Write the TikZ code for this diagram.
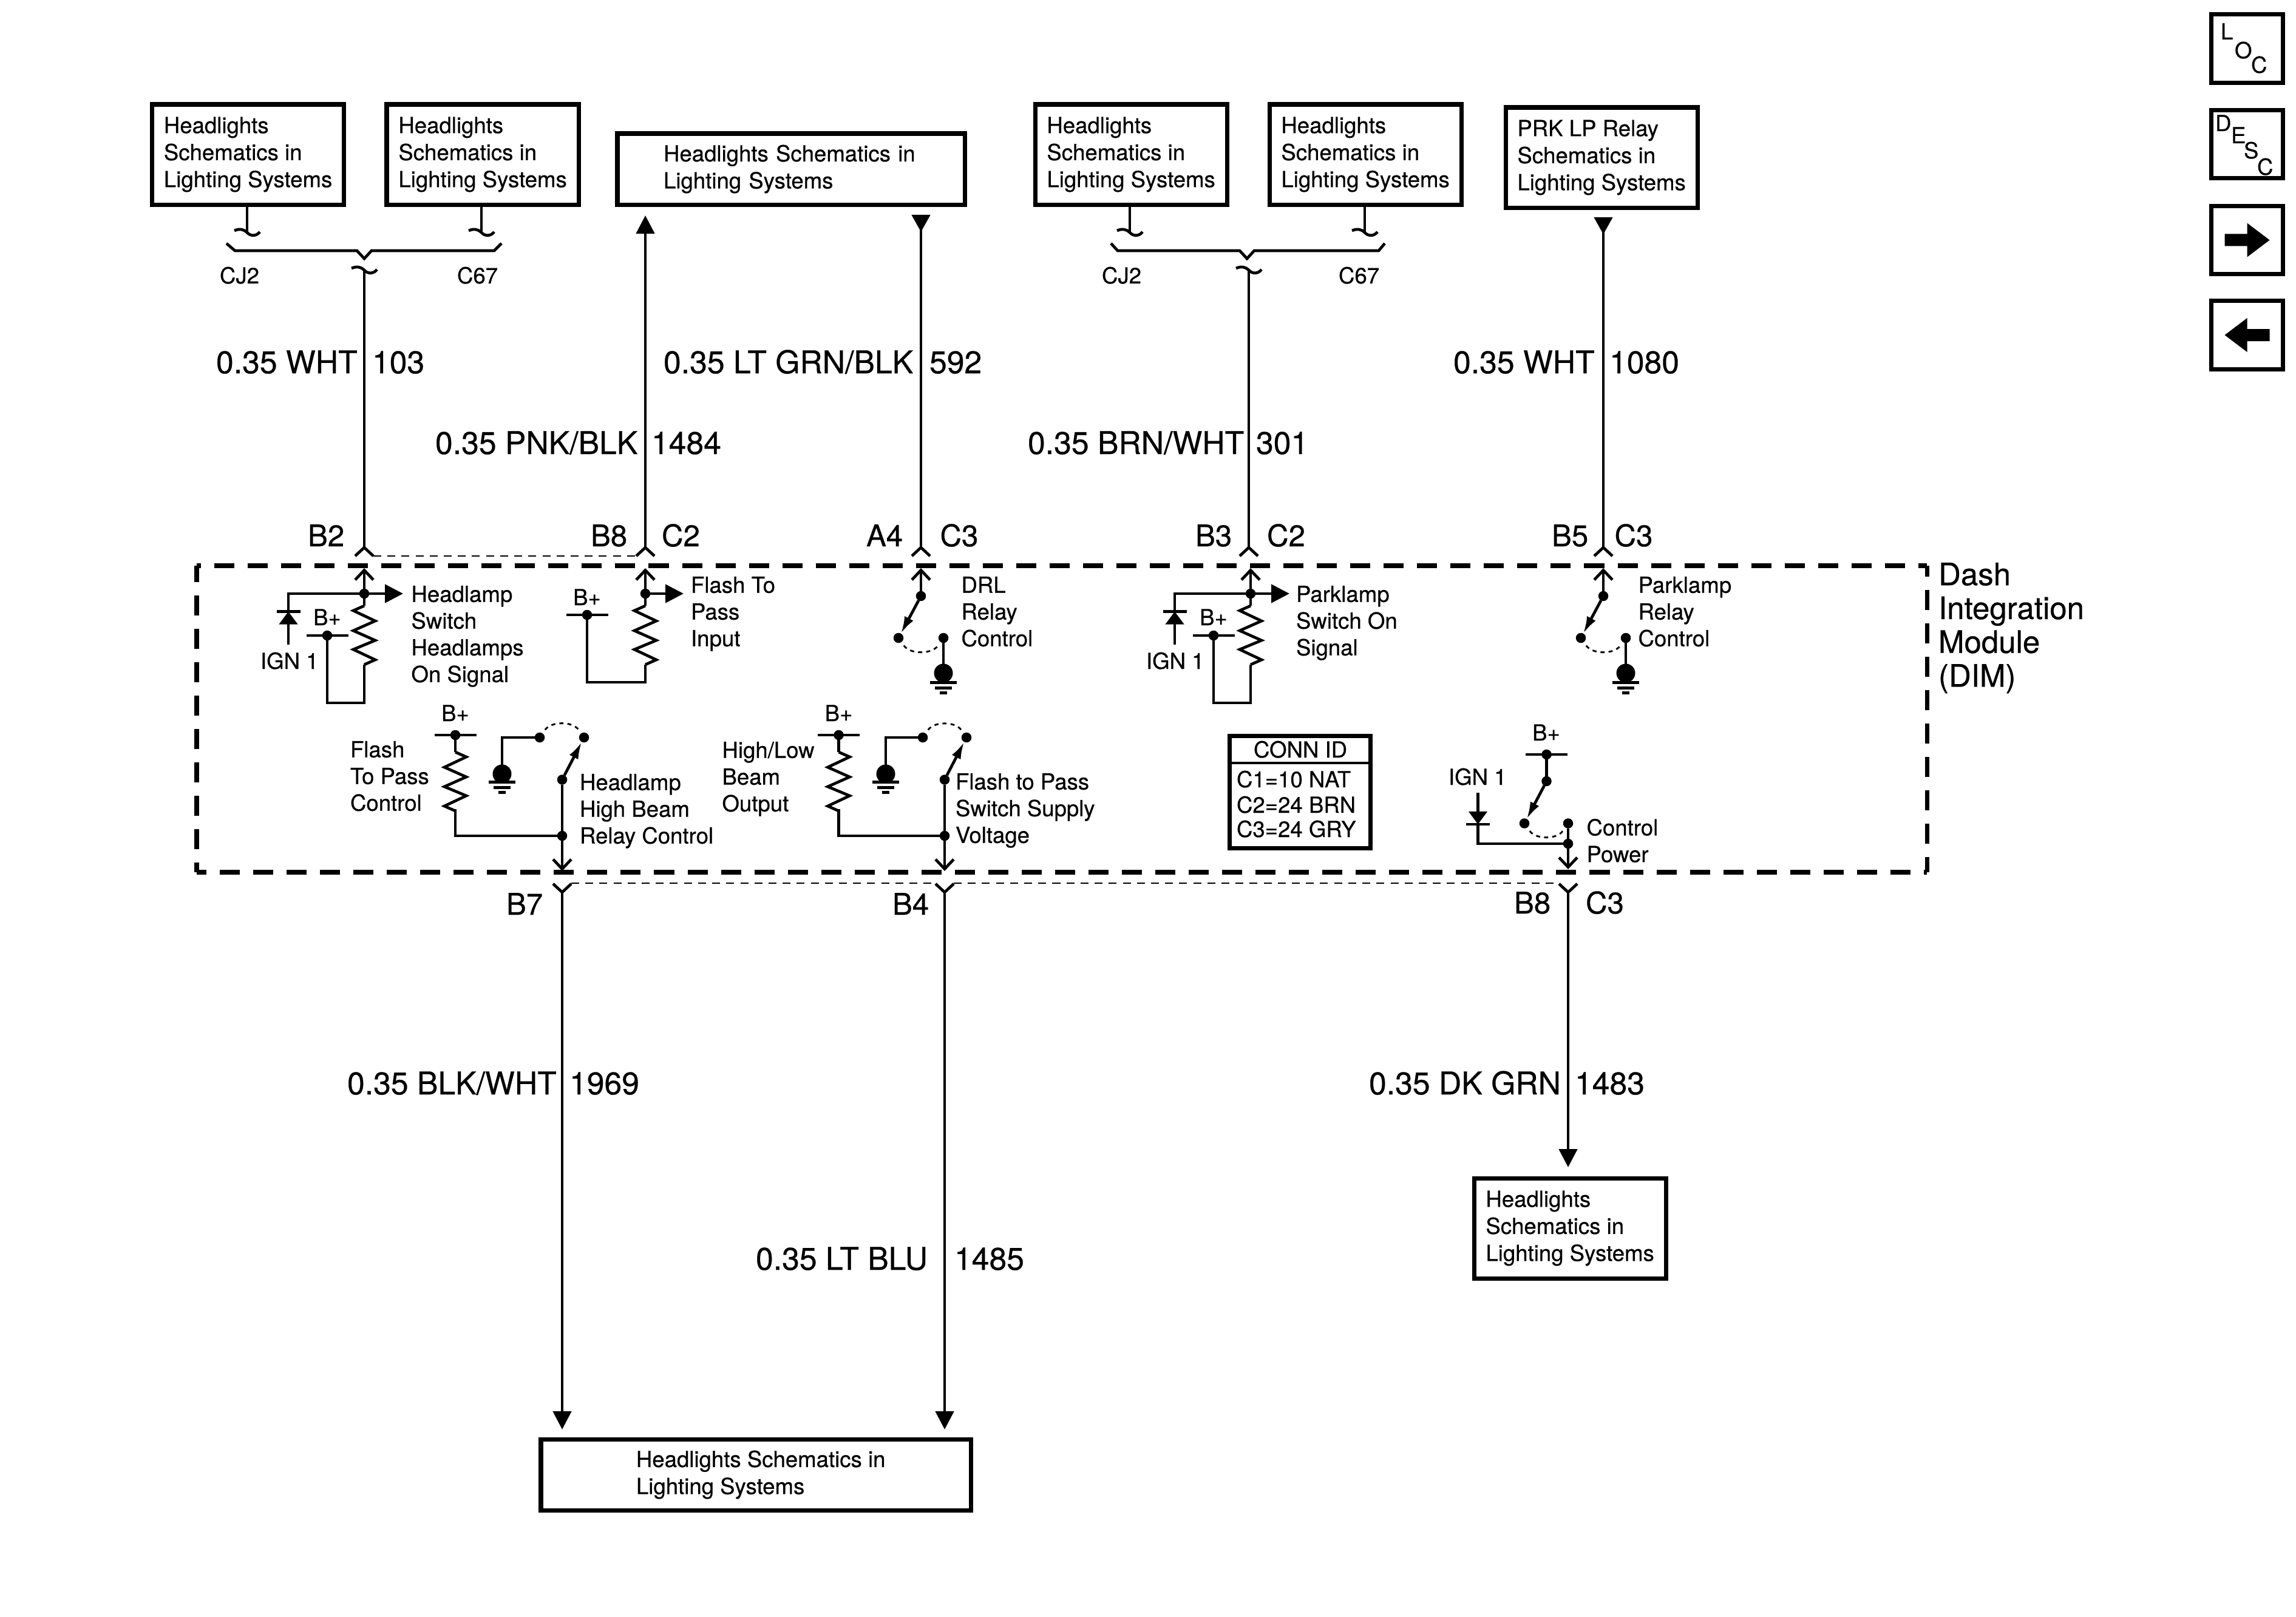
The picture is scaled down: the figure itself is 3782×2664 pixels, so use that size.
\documentclass[tikz,border=0pt]{standalone}
\usepackage{fontspec}
\setmainfont[FakeBold=0.5]{TeX Gyre Heros}
\usetikzlibrary{arrows.meta}

\tikzset{
    wire/.style={line width=1.33pt},
    thindash/.style={line width=0.8pt, dash pattern=on 3.7pt off 2.9pt},
    dimline/.style={line width=2pt, dash pattern=on 9.39pt off 6.26pt},
    swingarc/.style={line width=0.8pt, dash pattern=on 1.9pt off 1.9pt, shorten <=2pt, shorten >=2pt},
    opentip/.style={-{Straight Barb[length=4.5pt,width=8.5pt]}},
    filltip/.style={-{Triangle[length=8.5pt,width=8.5pt]}},
    droptip/.style={{Triangle[reversed,length=8pt,width=8.5pt]}-},
    diodetip/.style={-{Triangle[length=6pt,width=8.5pt]}},
    swarm/.style={-{Latex[length=8pt,width=4.6pt]}},
    txt/.style={font=\fontsize{10.4}{12.52}\selectfont, inner sep=0pt, outer sep=0pt},
    lbl/.style={txt, align=left, anchor=north west, xshift=-0.02cm},
    basel/.style={txt, anchor=base west, xshift=-0.02cm},
    pluslbl/.style={txt, anchor=base},
    pinlbl/.style={basel, font=\fontsize{14}{16}\selectfont},
    wirelbl/.style={basel, font=\fontsize{14.7}{17}\selectfont},
    infobox/.style={txt, font=\fontsize{10.4}{12.66}\selectfont, draw, line width=2pt, align=left, anchor=north west},
    narrowbox/.style={infobox, minimum width=3.16cm, minimum height=1.65cm},
    navbox/.style={draw, line width=2pt, inner sep=0pt, outer sep=0pt, minimum width=1.18cm, minimum height=1.12cm},
    junct/.style={circle, fill, inner sep=0pt, outer sep=0pt, minimum size=0.165cm},
    gblob/.style={circle, fill, inner sep=0pt, outer sep=0pt, minimum size=0.31cm},
    pics/resist/.style={code={
        \draw[wire] (0,0) -- (-18,8) -- (18,25) -- (-18,41) -- (18,57) -- (-18,72) -- (18,89) -- (0,97);
    }},
    pics/crossbar/.style={code={\draw[wire] (-#1,0) -- (#1,0);}},
    pics/conn/.style={code={\draw[wire] (-15,14) -- (0,0) -- (15,14);}},
    pics/tilde/.style={code={
        \draw[wire] (-21,-2) .. controls (-12,-6) and (-5,-4) .. (0,1) .. controls (5,7) and (15,8) .. (21,0);
    }},
    pics/gnd/.style={code={
        \draw[wire] (-22,0) -- (22,0);
        \draw[wire] (-14,9) -- (14,9);
        \draw[wire] (-6,17) -- (6,17);
    }},
    pics/navarrow/.style={code={
        \fill (-37,-10) -- (0,-10) -- (0,-28) -- (37,0) -- (0,28) -- (0,10) -- (-37,10) -- cycle;
    }},
}

\begin{document}
\begin{tikzpicture}[x=0.01cm, y=-0.01cm]
    \useasboundingbox (0,0) rectangle (3782,2664);

    % schematics boxes
    \node[narrowbox] (boxCJa) at (250.5,172) {Headlights\\Schematics in\\Lighting Systems};
    \node[narrowbox] (boxCa) at (637,172) {Headlights\\Schematics in\\Lighting Systems};
    \node[infobox, minimum height=1.17cm, text width=4.2cm, inner xsep=0.76cm] (boxWide) at (1017,220) {Headlights Schematics in\\Lighting Systems};
    \node[narrowbox] (boxCJb) at (1705,172) {Headlights\\Schematics in\\Lighting Systems};
    \node[narrowbox] (boxCb) at (2091,172) {Headlights\\Schematics in\\Lighting Systems};
    \node[narrowbox] (boxPrk) at (2480,177) {PRK LP Relay\\Schematics in\\Lighting Systems};
    \node[infobox, minimum width=7.08cm, minimum height=1.17cm] (boxLow) at (891,2371) {\hspace*{0.16cm}Headlights Schematics in\\\hspace*{0.16cm}Lighting Systems};
    \node[narrowbox] (boxDk) at (2428,1941) {Headlights\\Schematics in\\Lighting Systems};

    % splices under the top boxes
    \foreach \x/\xx/\n in {407/793/a, 1861/2248/b}{
        \coordinate (tildeL\n) at (\x,382);
        \coordinate (tildeR\n) at (\xx,382);
        \draw[wire] (tildeL\n |- boxCJa.south) -- (tildeL\n);
        \draw[wire] (tildeR\n |- boxCJa.south) -- (tildeR\n);
        \pic at (tildeL\n) {tilde};
        \pic at (tildeR\n) {tilde};
    }
    \draw[wire] (373,401) -- (387,413) -- (588,413) -- (600,426) -- (612,413) -- (814,413) -- (826,401);
    \draw[wire] (1830,401) -- (1841,413) -- (2042,413) -- (2054,426) -- (2066,413) -- (2271,413) -- (2281,401);
    \pic at (600,444) {tilde};
    \pic at (2057,444) {tilde};
    \foreach \x/\y/\t [count=\i] in {364/467/CJ2, 755/467/C67, 1817/467/CJ2, 2207/467/C67}
        \node[basel] (splice\i) at (\x,\y) {\t};

    % wires into the module
    \foreach \x/\n in {600/hs, 1063/fi, 1517/drl, 2057/ps, 2641/prk}{
        \coordinate (top\n) at (\x,902);
        \pic at (top\n) {conn};
    }
    \coordinate (tipFi) at (1063,355);
    \coordinate (tipDrl) at (1517,354);
    \coordinate (tipPrk) at (2641,358);
    \draw[wire] (600,444) -- (tophs);
    \draw[wire, filltip] (topfi) -- (tipFi);
    \draw[wire, droptip] (tipDrl) -- (topdrl);
    \draw[wire] (2057,444) -- (topps);
    \draw[wire, droptip] (tipPrk) -- (topprk);
    \draw[thindash] (615,916) -- (1048,916);

    % wires out of the module
    \foreach \x/\y/\n in {926/2355/hb, 1556/2355/ft, 2583/1923/cp}{
        \coordinate (low\n) at (\x,1470);
        \coordinate (end\n) at (\x,\y);
        \pic[yscale=-1] at (low\n) {conn};
        \draw[wire, filltip] (low\n) -- (end\n);
    }
    \draw[thindash] (941,1455) -- (1541,1455);
    \draw[thindash] (1571,1455) -- (2568,1455);

    % module outline
    \coordinate (dimNW) at (324,932);
    \coordinate (dimNE) at (3174,932);
    \coordinate (dimSE) at (3174,1437);
    \coordinate (dimSW) at (324,1437);
    \draw[dimline, dash phase=7.4pt] (dimNW) -- (dimNE);
    \draw[dimline, dash phase=4.27pt] (dimNE) -- (dimSE);
    \draw[dimline, dash phase=4.84pt] (dimSW) -- (dimSE);
    \draw[dimline, dash phase=1.82pt] (dimNW) -- (dimSW);
    \node[lbl, font=\fontsize{14.5}{15.85}\selectfont] (dimName) at (3195,927) {Dash\\Integration\\Module\\(DIM)};

    % switched inputs with diode and pull-up
    \foreach \x/\n in {600/hs, 2060/ps}{
        \node[junct] (\n-dot) at (\x,978) {};
        \node[junct] (\n-plus) at (\x-61,1047) {};
        \coordinate (\n-tip) at (\x,936);
        \coordinate (\n-out) at (\x+64,978);
        \coordinate (\n-bar) at (\x-125,1007.5);
        \coordinate (\n-ign) at (\x-125,1061.5);
        \coordinate (\n-rt) at (\x,998);
        \coordinate (\n-rb) at (\x,1095);
        \coordinate (\n-low) at (\x,1158);
        \draw[wire, opentip] (\n-dot) -- (\n-tip);
        \draw[wire, filltip] (\n-dot) -- (\n-out);
        \draw[wire, diodetip] (\n-ign) -- (\n-bar);
        \draw[wire] (\n-bar) -- (\n-bar |- \n-dot) -- (\n-dot);
        \draw[wire] (\n-dot) -- (\n-rt);
        \draw[wire] (\n-rb) -- (\n-low) -| (\n-plus);
        \pic at (\n-bar) {crossbar=19.5};
        \pic at (\n-plus) {crossbar=34.5};
        \pic at (\n-rt) {resist};
        \node[pluslbl] (\n-bp) at (\x-61,1030) {B+};
    }
    \node[basel] (hsIgn) at (431,1102) {IGN 1};
    \node[basel] (psIgn) at (1890,1102) {IGN 1};
    \node[lbl] (hsText) at (679.5,965) {Headlamp\\Switch\\Headlamps\\On Signal};
    \node[lbl] (psText) at (2137,965) {Parklamp\\Switch On\\Signal};

    % flash to pass input
    \node[junct] (fi-dot) at (1063,978) {};
    \node[junct] (fi-plus) at (967,1013) {};
    \coordinate (fi-tip) at (1063,936);
    \coordinate (fi-out) at (1126,978);
    \coordinate (fi-rt) at (1063,998);
    \coordinate (fi-rb) at (1063,1095);
    \coordinate (fi-low) at (1063,1124);
    \draw[wire, opentip] (fi-dot) -- (fi-tip);
    \draw[wire, filltip] (fi-dot) -- (fi-out);
    \draw[wire] (fi-dot) -- (fi-rt);
    \draw[wire] (fi-rb) -- (fi-low) -| (fi-plus);
    \pic at (fi-plus) {crossbar=34.5};
    \pic at (fi-rt) {resist};
    \node[pluslbl] (fi-bp) at (967,997) {B+};
    \node[lbl] (fiText) at (1140,950) {Flash To\\Pass\\Input};

    % relays to ground on the top row
    \foreach \x/\n in {1517/drl, 2641/prk}{
        \node[junct] (\n-piv) at (\x,982) {};
        \node[junct] (\n-cl) at (\x-37,1051) {};
        \node[junct] (\n-cr) at (\x+37,1051) {};
        \node[gblob] (\n-gnd) at (\x+37,1109) {};
        \coordinate (\n-tip) at (\x,936);
        \draw[wire, opentip] (\n-piv) -- (\n-tip);
        \draw[wire, swarm] (\n-piv) -- (\n-cl);
        \draw[wire] (\n-cr) -- (\n-gnd);
        \draw[swingarc] (\n-cl) to[bend right=55] (\n-cr);
        \pic at (\x+37,1124.5) {gnd};
    }
    \node[lbl] (drlText) at (1585.5,950) {DRL\\Relay\\Control};
    \node[lbl] (prkText) at (2700.5,950) {Parklamp\\Relay\\Control};

    % high beam and flash supply outputs
    \foreach \x/\xb/\xg/\xl/\xr/\n in {926/750/827/889/962/hb, 1556/1381.5/1459/1520/1592/ft}{
        \node[junct] (\n-plus) at (\xb,1211) {};
        \node[junct] (\n-piv) at (\x,1284.5) {};
        \node[junct] (\n-join) at (\x,1377) {};
        \node[junct] (\n-cl) at (\xl,1215) {};
        \node[junct] (\n-cr) at (\xr,1215) {};
        \node[gblob] (\n-gnd) at (\xg,1275) {};
        \coordinate (\n-rt) at (\xb,1239);
        \coordinate (\n-rb) at (\xb,1333);
        \coordinate (\n-out) at (\x,1435);
        \draw[wire] (\n-plus) -- (\n-rt);
        \draw[wire] (\n-rb) |- (\n-join);
        \draw[wire, opentip] (\n-piv) -- (\n-out);
        \draw[wire, swarm] (\n-piv) -- (\n-cr);
        \draw[wire] (\n-cl) -| (\n-gnd);
        \draw[swingarc] (\n-cl) to[bend left=55] (\n-cr);
        \pic at (\n-plus) {crossbar=34.5};
        \pic[xscale=-1] at (\n-rt) {resist};
        \pic at (\xg,1288.6) {gnd};
        \node[pluslbl] (\n-bp) at (\xb,1188) {B+};
    }
    \node[lbl] (fcText) at (579,1221) {Flash\\To Pass\\Control};
    \node[lbl] (hbText) at (957,1275) {Headlamp\\High Beam\\Relay Control};
    \node[lbl] (hlText) at (1191.5,1222) {High/Low\\Beam\\Output};
    \node[lbl] (ftText) at (1576,1274) {Flash to Pass\\Switch Supply\\Voltage};

    % control power
    \node[junct] (cp-plus) at (2547.5,1243) {};
    \node[junct] (cp-piv) at (2547.5,1287) {};
    \node[junct] (cp-cl) at (2511,1356.5) {};
    \node[junct] (cp-cr) at (2583,1356.5) {};
    \node[junct] (cp-join) at (2583,1390) {};
    \coordinate (cp-out) at (2583,1432);
    \coordinate (cp-ign) at (2434.5,1306);
    \coordinate (cp-bar) at (2434.5,1358);
    \draw[wire] (cp-plus) -- (cp-piv);
    \draw[wire, swarm] (cp-piv) -- (cp-cl);
    \draw[swingarc] (cp-cl) to[bend right=55] (cp-cr);
    \draw[wire] (cp-cr) -- (cp-join);
    \draw[wire, opentip] (cp-join) -- (cp-out);
    \draw[wire, diodetip] (cp-ign) -- (cp-bar);
    \draw[wire] (cp-bar) |- (cp-join);
    \pic at (cp-plus) {crossbar=34.5};
    \pic at (cp-bar) {crossbar=19.5};
    \node[pluslbl] (cp-bp) at (2547,1220) {B+};
    \node[basel] (cpIgn) at (2388,1293) {IGN 1};
    \node[lbl] (cpText) at (2615.5,1349) {Control\\Power};

    % connector ID table
    \node[infobox, minimum width=2.32cm, minimum height=1.85cm] (connBox) at (2025.5,1212.5) {};
    \draw[wire] (connBox.west |- 0,1257) -- (connBox.east |- 0,1257);
    \node[pluslbl] (connHead) at (2142,1248) {CONN ID};
    \node[basel] (connA) at (2039,1297) {C1=10 NAT};
    \node[basel] (connB) at (2039,1339) {C2=24 BRN};
    \node[basel] (connC) at (2039,1379) {C3=24 GRY};

    % pin and wire labels
    \foreach \x/\y/\t [count=\i] in {509/900/B2, 975/900/B8, 1092/900/C2, 1429/900/A4, 1550.5/900/C3, 1971/900/B3, 2089/900/C2, 2558/900/B5, 2661.5/900/C3, 836/1507/B7, 1472/1507/B4, 2496/1505/B8, 2614/1505/C3}
        \node[pinlbl] (pin\i) at (\x,\y) {\t};
    \foreach \x/\y/\t [count=\i] in {358/615/0.35 WHT, 615/615/103, 719/748/{0.35 PNK/BLK}, 1075/748/1484, 1095/615/{0.35 LT GRN/BLK}, 1533/615/592, 1695/748/{0.35 BRN/WHT}, 2071/748/301, 2396/615/0.35 WHT, 2653/615/1080, 574/1803/{0.35 BLK/WHT}, 940/1803/1969, 1247/2092/0.35 LT BLU, 1574/2092/1485, 2257/1803/0.35 DK GRN, 2596/1803/1483}
        \node[wirelbl] (gauge\i) at (\x,\y) {\t};

    % navigation buttons
    \node[navbox] (navLoc) at (3701.5,80) {};
    \node[navbox] (navDesc) at (3701.5,237.5) {};
    \node[navbox] (navNext) at (3701.5,395.5) {};
    \node[navbox] (navPrev) at (3701.5,552) {};
    \foreach \x/\y/\t [count=\i] in {3660/65/L, 3683/96/O, 3710/120/C, 3651/216/D, 3677/236/E, 3698/261/S, 3720/288/C}
        \node[basel] (navText\i) at (\x,\y) {\t};
    \pic at (navNext) {navarrow};
    \pic[xscale=-1] at (navPrev) {navarrow};
\end{tikzpicture}
\end{document}
